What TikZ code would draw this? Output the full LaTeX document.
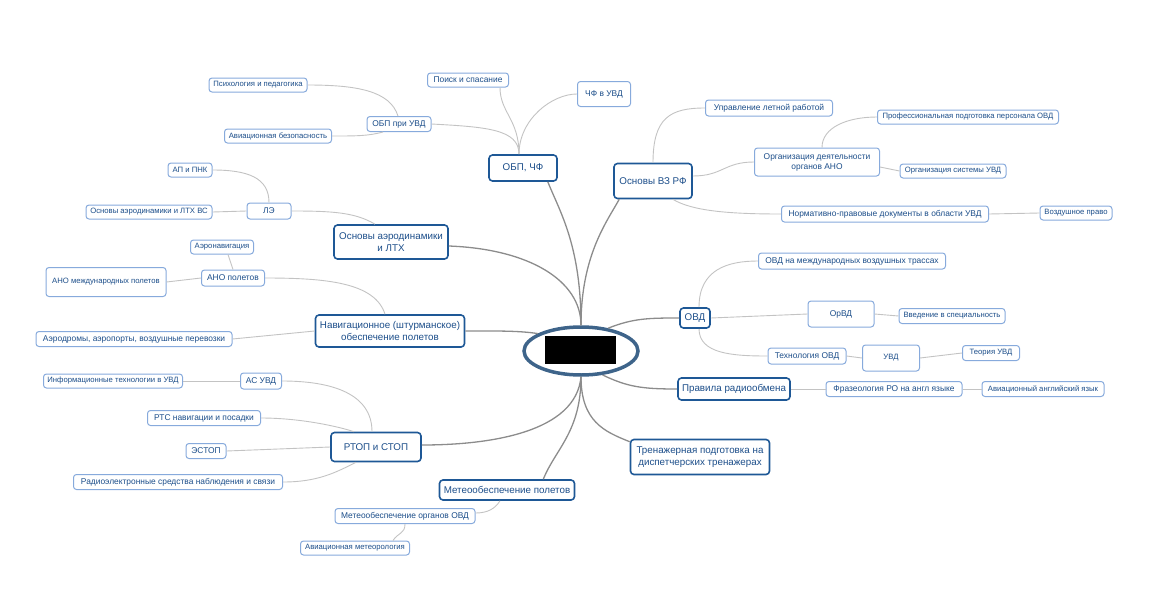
\documentclass[tikz,border=0pt]{standalone}
\usepackage{fontspec}
\setmainfont{Liberation Sans}
\usetikzlibrary{shapes.geometric}

\definecolor{mainblue}{RGB}{30,88,150}
\definecolor{subblue}{RGB}{135,170,220}
\definecolor{textblue}{RGB}{28,78,138}
\definecolor{ovalblue}{RGB}{62,100,138}
\definecolor{branchgray}{RGB}{140,140,140}
\definecolor{twiggray}{RGB}{195,195,195}

\begin{document}
\begin{tikzpicture}[x=1pt, y=-1pt,
      root/.style={ellipse, draw=ovalblue, line width=3.5pt, minimum width=114pt, minimum height=48pt},
      topic/.style={rectangle, rounded corners=3.5pt, draw=mainblue, line width=1.6pt, fill=white, text=textblue, font=\fontsize{9.8}{12}\selectfont, align=center, inner xsep=3pt, inner ysep=2pt},
      sub/.style={rectangle, rounded corners=3pt, draw=subblue, line width=1pt, fill=white, text=textblue, font=\fontsize{8.4}{10}\selectfont, align=center, inner xsep=3pt, inner ysep=1pt},
      leaf/.style={sub, font=\fontsize{7.7}{9}\selectfont},
      sz/.style 2 args={minimum width=#1pt, minimum height=#2pt},
      branch/.style={branchgray, line width=1.3pt},
      twig/.style={twiggray, line width=0.9pt}
    ]

    \useasboundingbox (0,0) rectangle (1153,597);

    % Center
    \node[root] (root) at (581,351) {};
    \fill[black] (545,336) rectangle (616,364);

    % Main topics
    \node[topic, sz={68}{26}] (obpchf) at (523,168) {ОБП, ЧФ};
    \node[topic, sz={78}{35}] (osnvz) at (653,181) {Основы ВЗ РФ};
    \node[topic, sz={114}{34}] (aero) at (391,242) {Основы аэродинамики\\и ЛТХ};
    \node[topic, sz={149}{32}] (nav) at (390,331) {Навигационное (штурманское)\\обеспечение полетов};
    \node[topic, sz={90}{29}] (rtop) at (376,447) {РТОП и СТОП};
    \node[topic, sz={135}{20}] (meteo) at (507,490) {Метеообеспечение полетов};
    \node[topic, sz={139}{35}] (tren) at (700,457) {Тренажерная подготовка на\\диспетчерских тренажерах};
    \node[topic, sz={112}{22}] (pravila) at (734,389) {Правила радиообмена};
    \node[topic, sz={30}{20}] (ovd) at (695,318) {ОВД};

    % Left sub topics
    \node[sub, sz={81}{14}] (poisk) at (468,80) {Поиск и спасание};
    \node[sub, sz={53}{25}] (chf) at (604,94) {ЧФ в УВД};
    \node[sub, sz={64}{15}] (obpuvd) at (399,124) {ОБП при УВД};
    \node[leaf, sz={98}{14}] (psih) at (258,85) {Психология и педагогика};
    \node[leaf, sz={107}{14}] (avbez) at (278,136) {Авиационная безопасность};
    \node[leaf, sz={44}{14}] (apnk) at (190,170) {АП и ПНК};
    \node[sub, sz={44}{16}] (le) at (269,211) {ЛЭ};
    \node[leaf, sz={126}{14}] (osnlth) at (149,212) {Основы аэродинамики и ЛТХ ВС};
    \node[leaf, sz={63}{14}] (aeronav) at (222,247) {Аэронавигация};
    \node[sub, sz={63}{16}] (ano) at (233,278) {АНО полетов};
    \node[leaf, sz={120}{29}] (anomezh) at (106,282) {АНО международных полетов};
    \node[sub, sz={196}{15}] (aerodr) at (134,339) {Аэродромы, аэропорты, воздушные перевозки};
    \node[leaf, sz={139}{14}] (inf) at (113,381) {Информационные технологии в УВД};
    \node[sub, sz={41}{16}] (asuvd) at (261,381) {АС УВД};
    \node[sub, sz={113}{15}] (rts) at (204,418) {РТС навигации и посадки};
    \node[sub, sz={40}{15}] (estop) at (206,451) {ЭСТОП};
    \node[sub, sz={209}{15}] (radio) at (178,482) {Радиоэлектронные средства наблюдения и связи};
    \node[sub, sz={140}{15}] (meteoorg) at (405,516) {Метеообеспечение органов ОВД};
    \node[leaf, sz={109}{14}] (avmet) at (355,548) {Авиационная метеорология};

    % Right sub topics
    \node[sub, sz={127}{16}] (upr) at (769,108) {Управление летной работой};
    \node[leaf, sz={181}{14}] (prof) at (968,117) {Профессиональная подготовка персонала ОВД};
    \node[sub, sz={125}{28}] (org) at (817,162) {Организация деятельности\\органов АНО};
    \node[leaf, sz={106}{14}] (orgsys) at (953,171) {Организация системы УВД};
    \node[sub, sz={207}{16}] (norm) at (885,214) {Нормативно-правовые документы в области УВД};
    \node[leaf, sz={72}{14}] (vozd) at (1076,213) {Воздушное право};
    \node[sub, sz={187}{16}] (ovdmezh) at (852,261) {ОВД на международных воздушных трассах};
    \node[sub, sz={66}{26}] (orvd) at (841,314) {ОрВД};
    \node[leaf, sz={106}{15}] (vved) at (952,316) {Введение в специальность};
    \node[sub, sz={78}{16}] (tehn) at (807,356) {Технология ОВД};
    \node[leaf, sz={57}{26}] (uvd) at (891,358) {УВД};
    \node[leaf, sz={57}{15}] (teor) at (991,353) {Теория УВД};
    \node[sub, sz={136}{15}] (fraz) at (894,389) {Фразеология РО на англ языке};
    \node[leaf, sz={122}{15}] (avangl) at (1043,389) {Авиационный английский язык};

    % Draw main branches
    \draw[branch] (root.north) .. controls +(0,-80) and +(12,30) .. ([xshift=-10pt]obpchf.south east);
    \draw[branch] (root.north) .. controls +(0,-70) and +(-12,22) .. ([xshift=6pt]osnvz.south west);
    \draw[branch] ([yshift=-4pt]aero.east) .. controls +(80,3) and +(0,-45) .. (root.north);
    \draw[branch] (nav.east) .. controls +(30,0) and +(-20,-3) .. (root.158);
    \draw[branch] (root.40) .. controls +(25,-10) and +(-30,0) .. (ovd.west);
    \draw[branch] (root.-48) .. controls +(25,12) and +(-35,0) .. (pravila.west);
    \draw[branch] (root.south) .. controls +(0,45) and +(-25,-10) .. ([yshift=-3pt]tren.north west);
    \draw[branch] (root.south) .. controls +(-5,55) and +(70,0) .. ([yshift=2pt]rtop.east);
    \draw[branch] (root.south) .. controls +(0,55) and +(12,-30) .. ([xshift=-32pt]meteo.north east);

    % Draw sub branches (left)
    \draw[twig] ([xshift=-4pt]obpchf.north) .. controls +(0,-35) and +(0,25) .. ([xshift=-9pt]poisk.south east);
    \draw[twig] ([xshift=-4pt]obpchf.north) .. controls +(0,-35) and +(-25,0) .. (chf.west);
    \draw[twig] (obpuvd.east) .. controls +(55,3) and +(0,-25) .. ([xshift=-4pt]obpchf.north);
    \draw[twig] ([xshift=-1pt]obpuvd.north) .. controls +(-8,-25) and +(50,0) .. (psih.east);
    \draw[twig] (avbez.east) .. controls +(25,0) and +(-15,4) .. ([xshift=-16pt]obpuvd.south);
    \draw[twig] (le.north) .. controls +(0,-25) and +(35,0) .. (apnk.east);
    \draw[twig] (le.west) -- (osnlth.east);
    \draw[twig] ([xshift=-16pt]aero.north) .. controls +(-20,-12) and +(40,0) .. (le.east);
    \draw[twig] ([xshift=-5pt]nav.north) .. controls +(-10,-32) and +(60,0) .. (ano.east);
    \draw[twig] (ano.north) -- ([xshift=6pt]aeronav.south);
    \draw[twig] (ano.west) -- (anomezh.east);
    \draw[twig] (nav.west) -- (aerodr.east);
    \draw[twig] ([xshift=-4pt]rtop.north) .. controls +(0,-38) and +(50,0) .. (asuvd.east);
    \draw[twig] (asuvd.west) -- (inf.east);
    \draw[twig] (rts.east) .. controls +(40,0) and +(-15,-5) .. ([xshift=-22pt]rtop.north);
    \draw[twig] (rtop.west) -- (estop.east);
    \draw[twig] ([xshift=-20pt]rtop.south) .. controls +(-20,10) and +(35,0) .. (radio.east);
    \draw[twig] ([xshift=-7pt]meteo.south) .. controls +(-5,8) and +(12,0) .. ([yshift=3pt]meteoorg.east);
    \draw[twig] (meteoorg.south) .. controls +(0,10) and +(5,-8) .. ([xshift=-17pt]avmet.north east);

    % Draw sub branches (right)
    \draw[twig] (osnvz.north) .. controls +(0,-45) and +(-35,0) .. (upr.west);
    \draw[twig] ([yshift=5pt]osnvz.east) .. controls +(30,0) and +(-30,0) .. (org.west);
    \draw[twig] ([xshift=5pt]org.north) .. controls +(0,-20) and +(-30,0) .. (prof.west);
    \draw[twig] ([yshift=-5pt]org.east) -- (orgsys.west);
    \draw[twig] ([xshift=-20pt]osnvz.south east) .. controls +(20,12) and +(-50,0) .. (norm.west);
    \draw[twig] (norm.east) -- (vozd.west);
    \draw[twig] ([xshift=4pt]ovd.north) .. controls +(0,-38) and +(-30,0) .. (ovdmezh.west);
    \draw[twig] (ovd.east) -- (orvd.west);
    \draw[twig] (orvd.east) -- (vved.west);
    \draw[twig] ([xshift=4pt]ovd.south) .. controls +(0,25) and +(-35,0) .. (tehn.west);
    \draw[twig] (tehn.east) -- (uvd.west);
    \draw[twig] (uvd.east) -- (teor.west);
    \draw[twig] (pravila.east) -- (fraz.west);
    \draw[twig] (fraz.east) -- (avangl.west);

\end{tikzpicture}
\end{document}
